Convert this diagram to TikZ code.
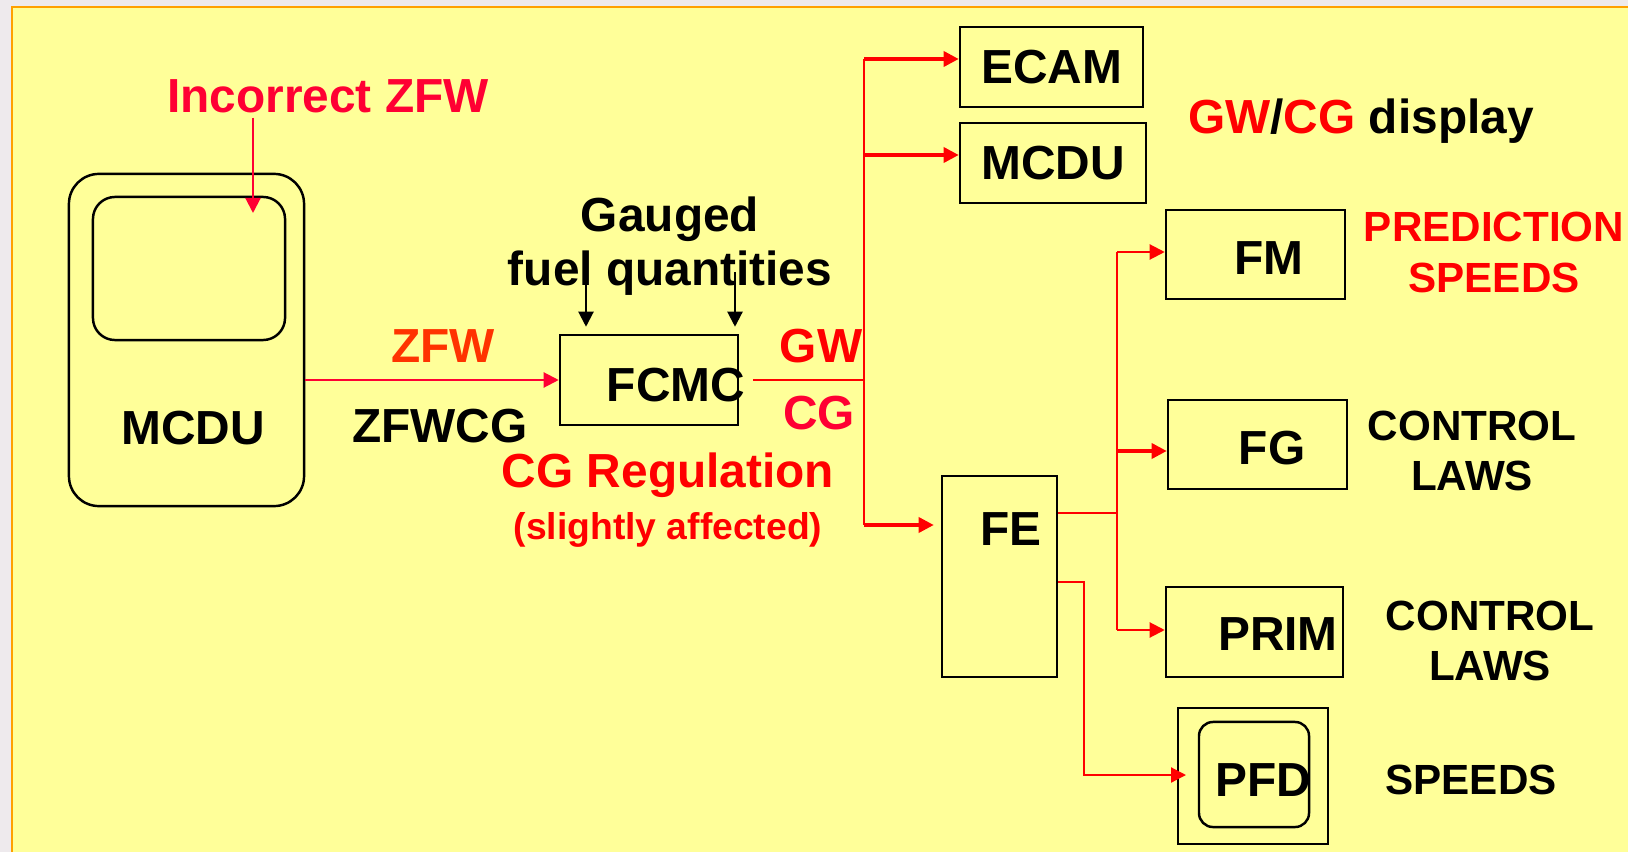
\documentclass[tikz,border=0pt]{standalone}
\usepackage{fontspec}
\setmainfont{Liberation Sans}
\usetikzlibrary{positioning,arrows.meta}
\definecolor{ink}{HTML}{000000}
\definecolor{pagebg}{HTML}{EEEAED}
\definecolor{panel}{HTML}{FFFF99}
\definecolor{panelrim}{HTML}{FFA000}
\definecolor{alarm}{HTML}{FF0000}
\definecolor{warnred}{HTML}{FF0033}
\definecolor{zfworange}{HTML}{FF3300}
\newcommand{\boxfont}{\fontsize{13.6pt}{15.4pt}\selectfont\bfseries}
\newcommand{\sidefont}{\fontsize{12pt}{14.3pt}\selectfont\bfseries}
\newcommand{\notefont}{\fontsize{10.6pt}{12pt}\selectfont\bfseries}

\begin{document}
\begin{tikzpicture}[x=0.01cm, y=-0.01cm,
      box/.style={draw=ink, line width=0.7pt, inner sep=0pt, font=\boxfont},
      lbl/.style={font=\boxfont, inner sep=0pt, text height=0.34cm, text depth=0pt},
      side/.style={font=\sidefont, align=center, inner sep=0pt},
      rline/.style={draw=alarm, line width=0.6pt},
      rarrow/.style={rline, -{Triangle[length=0.15cm, width=0.15cm]}},
      rthick/.style={rarrow, line width=0.95pt},
      zarrow/.style={rarrow, draw=warnred},
      karrow/.style={draw=ink, line width=0.6pt, -{Triangle[length=0.15cm, width=0.15cm]}},
    ]
      \useasboundingbox (0,0) rectangle (1628,852);
      \fill[pagebg] (0,0) rectangle (1628,852);
      \fill[panel] (12,7) rectangle (1628,852);
      \draw[panelrim, line width=0.6pt] (12,852) -- (12,7) -- (1628,7);

      \node[box, rounded corners=0.3cm, minimum width=2.35cm, minimum height=3.32cm] (mcdu) at (186.5,340) {};
      \node[box, rounded corners=0.22cm, minimum width=1.92cm, minimum height=1.43cm] (screen) at (189,268.5) {};
      \node[lbl] (mcdutxt) at (193,427) {MCDU};
      \node[lbl, text=warnred] (incz) at (328,95) {Incorrect ZFW};

      \node[box, minimum width=1.78cm, minimum height=0.9cm] (fcmc) at (649,380) {};
      \node[lbl] (fcmctxt) at (676,384) {FCMC};
      \node[lbl, text=zfworange] (zfw) at (443,345) {ZFW};
      \node[lbl] (zfwcg) at (440,425) {ZFWCG};
      \node[font=\boxfont, align=center, inner sep=0pt] (fuel) at (670,246) {Gauged\\fuel quantities};
      \node[lbl, text=alarm] (gw) at (821,345) {GW};
      \node[lbl, text=warnred] (cg) at (819,412) {CG};
      \node[lbl, text=alarm] (cgreg) at (668,470) {CG Regulation};
      \node[lbl, font=\notefont, text height=0.27cm, text=alarm] (affect) at (668,526) {(slightly affected)};

      \node[box, minimum width=1.83cm, minimum height=0.8cm] (ecam) at (1051.5,67) {ECAM};
      \node[box, minimum width=1.86cm, minimum height=0.8cm] (mcdub) at (1053,163) {MCDU};
      \node[lbl] (gwcg) at (1361,116) {\textcolor{alarm}{GW}/\textcolor{alarm}{CG} display};

      \node[box, minimum width=1.15cm, minimum height=2.01cm] (fe) at (999.5,576.5) {};
      \node[lbl] (fetxt) at (1011,528) {FE};
      \node[box, minimum width=1.79cm, minimum height=0.89cm] (fm) at (1255.5,254.5) {};
      \node[lbl] (fmtxt) at (1269,257) {FM};
      \node[box, minimum width=1.79cm, minimum height=0.89cm] (fg) at (1257.5,444.5) {};
      \node[lbl] (fgtxt) at (1272,447) {FG};
      \node[box, minimum width=1.77cm, minimum height=0.9cm] (prim) at (1254.5,632) {};
      \node[lbl] (primtxt) at (1278,633) {PRIM};
      \node[box, minimum width=1.5cm, minimum height=1.36cm] (pfd) at (1253,776) {};
      \node[box, rounded corners=0.14cm, minimum width=1.1cm, minimum height=1.05cm] (pfdscreen) at (1254,774.5) {};
      \node[lbl] (pfdtxt) at (1263,779) {PFD};

      \node[side, text=alarm] (pred) at (1494,252.5) {PREDICTION\\SPEEDS};
      \node[side] (lawsfg) at (1472,451) {CONTROL\\LAWS};
      \node[side] (lawsprim) at (1490,641) {CONTROL\\LAWS};
      \node[lbl, font=\sidefont, text height=0.3cm] (spd) at (1471,779) {SPEEDS};

      \coordinate (inctip) at (253,213);
      \draw[zarrow] ([yshift=-0.05cm]inctip |- incz.south) -- (inctip);
      \draw[zarrow] (mcdu.east |- fcmc.west) -- (fcmc.west);

      \coordinate (fq1) at (586,278);
      \coordinate (fq2) at (735,272);
      \draw[karrow] (fq1) -- ([yshift=0.07cm]fq1 |- fcmc.north);
      \draw[karrow] (fq2) -- ([yshift=0.07cm]fq2 |- fcmc.north);

      \coordinate (bustop) at (864,59);
      \coordinate (mcdutap) at (864,155);
      \coordinate (busbot) at (864,525);
      \draw[rline] ([xshift=0.14cm]fcmc.east) -- (fcmc.east -| bustop);
      \draw[rline, line width=0.8pt] (bustop) -- (busbot);
      \draw[rthick] (bustop) -- (bustop -| ecam.west);
      \draw[rthick] (mcdutap) -- (mcdutap -| mcdub.west);
      \draw[rthick] (busbot) -- ([xshift=-0.07cm]busbot -| fe.west);

      \coordinate (fefork) at (1117,513);
      \coordinate (fanfm) at (1117,252);
      \coordinate (fanfg) at (1117,451);
      \coordinate (fanprim) at (1117,630);
      \draw[rline] (fe.east |- fefork) -- (fefork);
      \draw[rline] (fanfm) -- (fanprim);
      \draw[rarrow] (fanfm) -- (fanfm -| fm.west);
      \draw[rthick] (fanfg) -- (fanfg -| fg.west);
      \draw[rarrow] (fanprim) -- (fanprim -| prim.west);

      \coordinate (pfdfork) at (1084,582);
      \coordinate (pfdtip) at (1186,775);
      \draw[rarrow] (fe.east |- pfdfork) -- (pfdfork) |- (pfdtip);
    \end{tikzpicture}
\end{document}
